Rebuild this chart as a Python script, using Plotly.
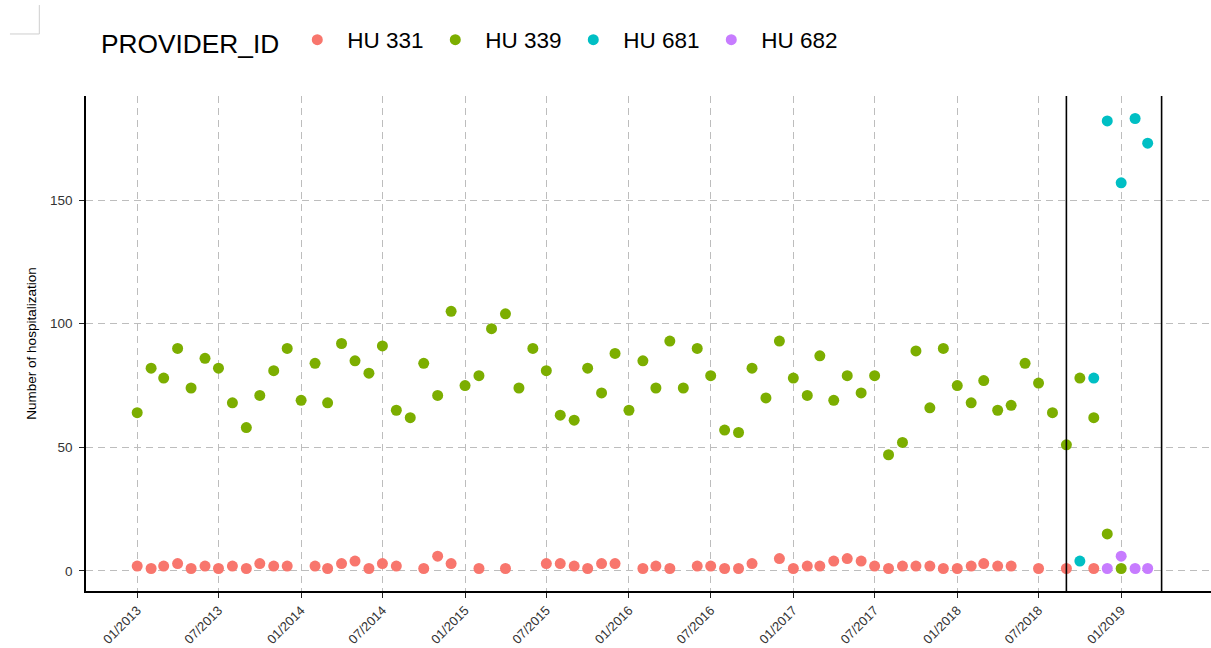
import plotly.graph_objects as go

# Monthly hospitalization counts per provider
hu331_months = [
    "2013-01", "2013-02", "2013-03", "2013-04", "2013-05", "2013-06",
    "2013-07", "2013-08", "2013-09", "2013-10", "2013-11", "2013-12",
    "2014-02", "2014-03", "2014-04", "2014-05", "2014-06", "2014-07",
    "2014-08", "2014-10", "2014-11", "2014-12",
    "2015-02", "2015-04", "2015-07", "2015-08", "2015-09", "2015-10",
    "2015-11", "2015-12",
    "2016-02", "2016-03", "2016-04", "2016-06", "2016-07", "2016-08",
    "2016-09", "2016-10", "2016-12",
    "2017-01", "2017-02", "2017-03", "2017-04", "2017-05", "2017-06",
    "2017-07", "2017-08", "2017-09", "2017-10", "2017-11", "2017-12",
    "2018-01", "2018-02", "2018-03", "2018-04", "2018-05", "2018-07",
    "2018-09", "2018-11",
]
hu331_values = [
    2, 1, 2, 3, 1, 2, 1, 2, 1, 3, 2, 2,
    2, 1, 3, 4, 1, 3, 2, 1, 6, 3,
    1, 1, 3, 3, 2, 1, 3, 3,
    1, 2, 1, 2, 2, 1, 1, 3, 5,
    1, 2, 2, 4, 5, 4, 2, 1, 2, 2, 2, 1,
    1, 2, 3, 2, 2, 1, 1, 1,
]

hu339_months = [f"{y}-{m:02d}" for y in range(2013, 2019) for m in range(1, 13)] + ["2019-01"]
hu339_values = [
    64, 82, 78, 90, 74, 86, 82, 68, 58, 71, 81, 90,
    69, 84, 68, 92, 85, 80, 91, 65, 62, 84, 71, 105,
    75, 79, 98, 104, 74, 90, 81, 63, 61, 82, 72, 88,
    65, 85, 74, 93, 74, 90, 79, 57, 56, 82, 70, 93,
    78, 71, 87, 69, 79, 72, 79, 47, 52, 89, 66, 90,
    75, 68, 77, 65, 67, 84, 76, 64, 51, 78, 62, 15,
    1,
]

hu681_months = ["2018-10", "2018-11", "2018-12", "2019-01", "2019-02", "2019-03"]
hu681_values = [4, 78, 182, 157, 183, 173]

hu682_months = ["2018-12", "2019-01", "2019-02", "2019-03"]
hu682_values = [1, 6, 1, 1]

providers = ["HU 331", "HU 339", "HU 681", "HU 682"]
colors = ["#F8766D", "#7CAE00", "#00BFC4", "#C77CFF"]

# Period boundaries marked with vertical lines
period_bounds = ["2018-09-01", "2019-04-01"]

# Axis ticks
x_tick_dates = [f"{y}-{m:02d}-01" for y in range(2013, 2020) for m in (1, 7)][:13]
x_tick_labels = [d[5:7] + "/" + d[:4] for d in x_tick_dates]
y_tick_values = [0, 50, 100, 150]

series = [
    (hu331_months, hu331_values),
    (hu339_months, hu339_values),
    (hu681_months, hu681_values),
    (hu682_months, hu682_values),
]

FONT = "Liberation Sans, Arial, sans-serif"

fig = go.Figure()
for name, color, (months, values) in zip(providers, colors, series):
    fig.add_trace(go.Scatter(
        x=[m + "-01" for m in months],
        y=values,
        mode="markers",
        name=name,
        marker=dict(color=color, size=11, line=dict(width=0)),
    ))

for d in period_bounds:
    fig.add_shape(type="line", xref="x", yref="paper", x0=d, x1=d, y0=0, y1=1,
                  line=dict(color="black", width=1.6), layer="above")

# small corner mark at the top left
fig.add_shape(type="line", xref="paper", yref="paper",
              x0=-0.0415, x1=-0.0415, y0=1.1838, y1=1.1253,
              line=dict(color="#cfcfcf", width=1))
fig.add_shape(type="line", xref="paper", yref="paper",
              x0=-0.0676, x1=-0.0415, y0=1.1253, y1=1.1253,
              line=dict(color="#cfcfcf", width=1))

grid = dict(showgrid=True, gridcolor="#bdbdbd", gridwidth=1.1, griddash="7px,5px")

fig.update_layout(
    width=1211, height=648,
    margin=dict(l=86, r=0, t=96, b=57),
    paper_bgcolor="white", plot_bgcolor="white",
    font=dict(family=FONT, color="black"),
    showlegend=True,
    legend=dict(
        orientation="h",
        xref="container", yref="container",
        x=99 / 1211, xanchor="left",
        y=1 - 41 / 648, yanchor="middle",
        title=dict(text="PROVIDER_ID", font=dict(size=26.3, family=FONT, color="black")),
        font=dict(size=22.5, family=FONT, color="black"),
        itemwidth=50,
        entrywidth=73, entrywidthmode="pixels",
        bgcolor="rgba(0,0,0,0)",
    ),
    xaxis=dict(
        type="date",
        range=["2012-09-09", "2019-07-20"],
        tickvals=x_tick_dates,
        ticktext=x_tick_labels,
        tickangle=-45,
        tickfont=dict(size=13, color="#333333", family=FONT),
        ticks="outside", ticklen=5, tickwidth=1.4, tickcolor="#222222",
        showline=True, linecolor="black", linewidth=1.6,
        zeroline=False,
        **grid,
    ),
    yaxis=dict(
        range=[-8.1, 192.1],
        tickvals=y_tick_values,
        tickfont=dict(size=13.5, color="#333333", family=FONT),
        ticks="outside", ticklen=5, tickwidth=1.4, tickcolor="#222222",
        ticklabelstandoff=4,
        showline=True, linecolor="black", linewidth=1.6,
        zeroline=False,
        title=dict(text="Number of hospitalization",
                   font=dict(size=13.5, color="black", family=FONT), standoff=10),
        **grid,
    ),
)

fig.write_html("out.html")
